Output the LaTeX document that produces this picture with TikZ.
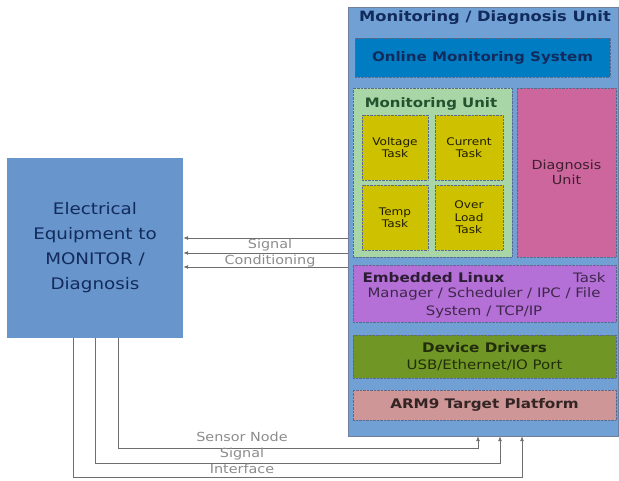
\documentclass[tikz,border=0pt]{standalone}
\usepackage{fontspec}
\setmainfont[FakeStretch=1.15]{DejaVu Sans}
\usetikzlibrary{arrows.meta}

\definecolor{unitblue}{RGB}{112,160,212}
\definecolor{equipblue}{RGB}{104,150,204}
\definecolor{onlineblue}{RGB}{0,124,194}
\definecolor{monigreen}{RGB}{168,214,166}
\definecolor{monitext}{RGB}{34,82,46}
\definecolor{taskyellow}{RGB}{206,194,0}
\definecolor{diagpink}{RGB}{204,102,156}
\definecolor{linuxpurple}{RGB}{180,112,214}
\definecolor{drivgreen}{RGB}{112,150,38}
\definecolor{armrose}{RGB}{206,150,150}
\definecolor{navytext}{RGB}{18,42,92}
\definecolor{linegray}{RGB}{110,110,110}

\tikzset{
  layer/.style={draw=navytext!70, densely dotted, inner sep=0pt, align=center},
  tasktxt/.style={font=\fontsize{10.5}{12.5}\selectfont, text=black!85!taskyellow},
  sig/.style={draw=linegray, line width=0.8pt, -{Latex[length=5pt,width=4pt]}},
  siglbl/.style={text=linegray!80, font=\fontsize{12.5}{14}\selectfont}
}

\begin{document}
\begin{tikzpicture}[x=1pt, y=-1pt]
\useasboundingbox (0,0) rectangle (619,481);
% monitoring / diagnosis unit
\node[draw=navytext!60, fill=unitblue, minimum width=270pt, minimum height=429pt, inner sep=0pt] (unit) at (483,221.5) {};
\node[font=\bfseries\fontsize{14.2}{16}\selectfont, text=navytext] (unittitle) at (485,18) {Monitoring / Diagnosis Unit};
\node[layer, fill=onlineblue, minimum width=255pt, minimum height=39pt, text=navytext, font=\bfseries\fontsize{13.1}{15}\selectfont] (online) at (482.5,57.5) {Online Monitoring System};
% monitoring unit with its tasks
\node[layer, fill=monigreen, minimum width=159pt, minimum height=169pt] (moni) at (432.5,172.5) {};
\node[font=\bfseries\fontsize{13}{15}\selectfont, text=monitext] (monititle) at (431,104) {Monitoring Unit};
\node[layer, fill=taskyellow, minimum width=66pt, minimum height=65pt, tasktxt] (volt) at (395,147.5) {Voltage\\Task};
\node[layer, fill=taskyellow, minimum width=68pt, minimum height=65pt, tasktxt] (curr) at (469,147.5) {Current\\Task};
\node[layer, fill=taskyellow, minimum width=66pt, minimum height=65pt, tasktxt] (temp) at (395,217.5) {Temp\\Task};
\node[layer, fill=taskyellow, minimum width=68pt, minimum height=65pt, tasktxt] (over) at (469,217.5) {Over\\Load\\Task};
\node[layer, fill=diagpink, minimum width=99pt, minimum height=169pt, text=black!70!diagpink, font=\fontsize{12.5}{15}\selectfont] (diag) at (566.5,172.5) {Diagnosis\\Unit};
% lower layers
\node[layer, fill=linuxpurple, minimum width=263pt, minimum height=57pt] (linux) at (484.5,293.5) {};
\node[anchor=west, font=\bfseries\fontsize{13.2}{15}\selectfont, text=black!75!linuxpurple] (linuxtitle) at (359,278) {Embedded Linux};
\node[anchor=east, font=\fontsize{13}{15}\selectfont, text=black!65!linuxpurple] (linuxtask) at (609,278) {Task};
\node[font=\fontsize{13}{18}\selectfont, text=black!65!linuxpurple, align=center] (linuxtxt) at (484,303) {Manager / Scheduler / IPC / File\\System / TCP/IP};
\node[layer, fill=drivgreen, minimum width=263pt, minimum height=43pt, text=black!70!drivgreen, font=\fontsize{13}{17}\selectfont] (driv) at (484.5,356.5) {\textbf{\fontsize{13.2}{17}\selectfont Device Drivers}\\USB/Ethernet/IO Port};
\node[layer, fill=armrose, minimum width=263pt, minimum height=30pt, text=black!75!armrose, font=\bfseries\fontsize{13.2}{15}\selectfont] (arm) at (484.5,405) {ARM9 Target Platform};
% equipment
\node[fill=equipblue, minimum width=176pt, minimum height=180pt, text=navytext, font=\fontsize{15.9}{25}\selectfont, align=center] (equip) at (95,248) {Electrical\\Equipment to\\MONITOR /\\Diagnosis};
% signal conditioning
\draw[sig] (unit.west |- 0,238) -- (equip.east |- 0,238);
\draw[sig] (unit.west |- 0,253) -- (equip.east |- 0,253);
\draw[sig] (unit.west |- 0,267) -- (equip.east |- 0,267);
\node[siglbl] (sclbl1) at (270,245) {Signal};
\node[siglbl] (sclbl2) at (270,261) {Conditioning};
% sensor node signal interface
\draw[sig] (equip.south -| 118,0) -- (118,448) -- (478,448) -- (unit.south -| 478,0);
\draw[sig] (equip.south -| 95,0) -- (95,463) -- (500,463) -- (unit.south -| 500,0);
\draw[sig] (equip.south -| 73,0) -- (73,477) -- (522,477) -- (unit.south -| 522,0);
\node[siglbl] (snlbl1) at (242,437) {Sensor Node};
\node[siglbl] (snlbl2) at (242,454) {Signal};
\node[siglbl] (snlbl3) at (242,469) {Interface};
\end{tikzpicture}
\end{document}
